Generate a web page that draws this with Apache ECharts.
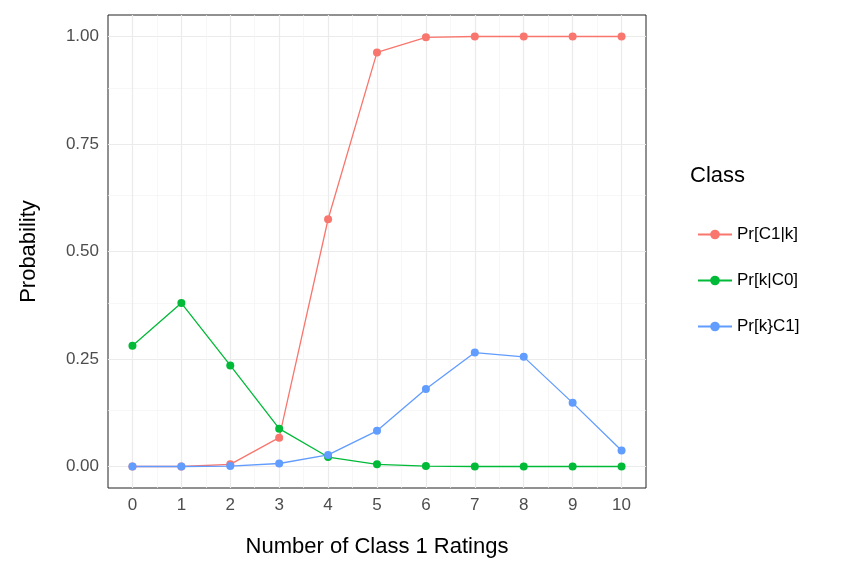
<!doctype html>
<html>
<head>
<meta charset="utf-8">
<script src="https://cdn.jsdelivr.net/npm/echarts@6/dist/echarts.min.js"></script>
<style>body{margin:0}#main{width:864px;height:576px}</style>
</head>
<body>
<div id="main"></div>
<script>
var ks = [0, 1, 2, 3, 4, 5, 6, 7, 8, 9, 10];
var prC1k = [0, 0, 0.005, 0.067, 0.575, 0.963, 0.998, 1, 1, 1, 1];
var prkC0 = [0.281, 0.380, 0.235, 0.088, 0.022, 0.005, 0.001, 0, 0, 0, 0];
var prkC1 = [0, 0, 0.001, 0.007, 0.027, 0.083, 0.180, 0.265, 0.255, 0.148, 0.037];
var yTicks = [0, 0.25, 0.5, 0.75, 1];

function pairs(v) { return ks.map(function (k, i) { return [k, v[i]]; }); }

// grid lines (major + minor) drawn as markLines
var gridLines = [];
for (var y = 0; y <= 1.0001; y += 0.125) {
    var major = Math.abs(y * 4 - Math.round(y * 4)) < 1e-6;
    gridLines.push({ yAxis: y, lineStyle: { color: major ? '#ebebeb' : '#f4f4f4', width: major ? 1.2 : 0.7, type: 'solid' } });
}
for (var x = 0; x <= 10; x += 0.5) {
    var maj = x % 1 === 0;
    gridLines.push({ xAxis: x, lineStyle: { color: maj ? '#ebebeb' : '#f4f4f4', width: maj ? 1.2 : 0.7, type: 'solid' } });
}

var font = 'Liberation Sans, Arial, sans-serif';
var chart = echarts.init(document.getElementById('main'));
function line(name, data, color, extra) {
    return Object.assign({
        name: name, type: 'line', data: pairs(data), symbol: 'circle', symbolSize: 8,
        itemStyle: { color: color }, lineStyle: { color: color, width: 1.3 }, z: 3
    }, extra || {});
}
chart.setOption({
    animation: false,
    textStyle: { fontFamily: font },
    grid: { left: 108, right: 218, top: 15, bottom: 88, show: true, borderColor: '#222', borderWidth: 1, backgroundColor: '#fff' },
    xAxis: {
        type: 'value', min: -0.5, max: 10.5,
        name: 'Number of Class 1 Ratings', nameLocation: 'middle', nameGap: 48,
        nameTextStyle: { fontSize: 22, color: '#000', fontFamily: font },
        axisLine: { show: false }, splitLine: { show: false },
        axisTick: { show: true, customValues: ks, length: 5, lineStyle: { color: '#333' } },
        axisLabel: { customValues: ks, fontSize: 17, color: '#4d4d4d', margin: 9 }
    },
    yAxis: {
        type: 'value', min: -0.05, max: 1.05,
        name: 'Probability', nameLocation: 'middle', nameGap: 68,
        nameTextStyle: { fontSize: 22, color: '#000', fontFamily: font },
        axisLine: { show: false }, splitLine: { show: false },
        axisTick: { show: true, customValues: yTicks, length: 5, lineStyle: { color: '#333' } },
        axisLabel: { customValues: yTicks, fontSize: 17, color: '#4d4d4d', margin: 9,
            formatter: function (v) { return v.toFixed(2); } }
    },
    legend: {
        orient: 'vertical', left: 692, top: 221, itemGap: 29, itemWidth: 34, itemHeight: 12,
        textStyle: { fontSize: 17, color: '#000' },
        data: ['Pr[C1|k]', 'Pr[k|C0]', 'Pr[k}C1]']
    },
    graphic: [{ type: 'text', left: 690, top: 165, style: { text: 'Class', fontSize: 22, fill: '#000', fontFamily: font } }],
    series: [
        line('Pr[C1|k]', prC1k, '#f8766d', {
            markLine: { silent: true, symbol: 'none', label: { show: false }, z: 1, data: gridLines }
        }),
        line('Pr[k|C0]', prkC0, '#00ba38'),
        line('Pr[k}C1]', prkC1, '#619cff')
    ]
});
</script>
</body>
</html>
